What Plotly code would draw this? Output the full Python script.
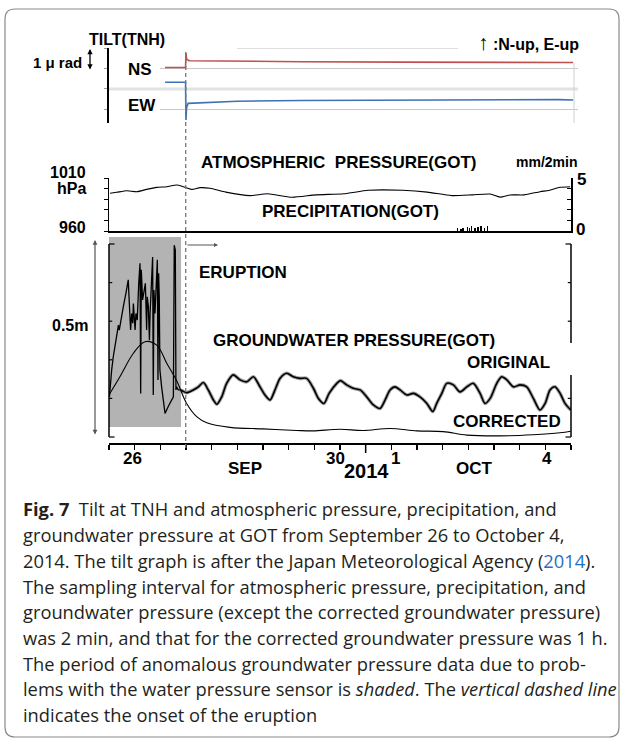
import plotly.graph_objects as go

W, H = 624, 740

# ---------------- data (time in hours since 2014-09-26 00:00 JST) ----------------
ERUPTION_H = 35.87
SHADE_END_H = 33.7

TILT_NS_H = [26.2, 35.8, 35.95, 36.3, 37.5, 45, 60, 90, 136, 183, 217]
TILT_NS = [1.05, 1.05, 1.76, 1.45, 1.38, 1.37, 1.35, 1.33, 1.31, 1.29, 1.29]
TILT_EW_H = [26.2, 35.8, 35.95, 36.3, 37.0, 45, 60, 90, 136, 160, 183, 200, 210, 217]
TILT_EW = [0.33, 0.33, -1.51, -0.9, -0.70, -0.66, -0.60, -0.56, -0.54, -0.53, -0.51, -0.50, -0.52, -0.54]

ATM_H = [0.5, 3.6, 8.3, 13.0, 17.6, 22.3, 27.0, 31.7, 34.7, 38.7, 42.6, 47.2, 54.6, 65.9,
         74.1, 85.5, 96.8, 109.8, 121.2, 137.4, 148.8, 160.2, 169.9, 178.2, 182.8, 187.5,
         194.2, 201.5, 205.6, 210.9, 215.6]
ATM_HPA = [995.6, 996.5, 998.0, 997.1, 999.3, 1001.2, 1001.8, 1003.4, 1001.8, 999.3, 1000.9,
           1000.3, 996.7, 993.4, 995.1, 991.8, 994.1, 995.1, 998.4, 998.4, 996.7, 993.4,
           994.1, 994.9, 992.0, 994.0, 994.1, 997.1, 998.2, 1001.2, 1001.8]

PRECIP_H = [163.0, 164.5, 165.5, 167.5, 168.5, 169.5, 171.0, 172.5, 174.0, 175.5, 177.0]
PRECIP_MM = [0.3, 0.2, 0.3, 0.4, 0.3, 0.5, 0.3, 0.4, 0.5, 0.3, 0.5]

GW_ANOM_H = [0.2, 0.5, 1.25, 2.0, 2.8, 3.6, 4.4, 4.8, 5.5, 6.7, 7.9, 9.0, 9.5, 10.1, 10.6, 11.1,
             11.4, 12.2, 12.6, 13.2, 13.9, 14.5, 14.8, 15.1, 15.7, 16.4, 17.0, 17.6, 17.9, 18.4,
             18.9, 19.2, 19.5, 20.0, 20.4, 20.7, 21.0, 21.5, 22.0, 22.6, 22.9, 23.2, 23.5, 23.8,
             24.6, 25.4, 26.2, 27.7, 29.3, 30.1, 30.5, 31.0, 31.3, 31.6, 32.4, 33.5]
GW_ANOM_M = [0.104, 0.130, 0.174, 0.208, 0.234, 0.269, 0.290, 0.277, 0.303, 0.338, 0.372, 0.407,
             0.346, 0.277, 0.320, 0.295, 0.346, 0.277, 0.320, 0.303, 0.398, 0.450, 0.113, 0.433,
             0.355, 0.381, 0.398, 0.277, 0.363, 0.338, 0.251, 0.320, 0.363, 0.450, 0.466, 0.109,
             0.381, 0.320, 0.389, 0.459, 0.148, 0.424, 0.363, 0.174, 0.130, 0.087, 0.061, 0.079,
             0.096, 0.104, 0.497, 0.484, 0.122, 0.130, 0.122, 0.122]

GW_ORIG_H = [33.5, 36.3, 39.4, 41.8, 44.1, 46.4, 48.8, 50.4, 52.7, 55.0, 58.1, 61.3, 64.4, 67.5,
             70.6, 72.9, 75.3, 77.6, 80.0, 83.1, 86.2, 89.3, 92.4, 95.5, 97.9, 100.5, 102.9,
             106.5, 108.2, 111.1, 114.2, 117.4, 120.5, 123.6, 126.7, 129.1, 131.4, 133.7, 136.1,
             139.2, 142.3, 145.4, 148.6, 151.4, 153.2, 155.6, 157.9, 161.0, 164.1, 167.3, 170.3,
             173.5, 175.8, 178.2, 181.3, 183.6, 186.0, 189.1, 192.2, 195.3, 198.4, 201.5, 203.9,
             206.2, 208.5, 210.9, 213.2, 215.9]
GW_ORIG_M = [0.122, 0.115, 0.122, 0.130, 0.141, 0.122, 0.096, 0.085, 0.104, 0.139, 0.161, 0.148,
             0.143, 0.156, 0.130, 0.109, 0.096, 0.122, 0.152, 0.165, 0.156, 0.152, 0.152, 0.127,
             0.100, 0.087, 0.113, 0.139, 0.146, 0.135, 0.126, 0.122, 0.104, 0.083, 0.074, 0.096,
             0.122, 0.130, 0.122, 0.109, 0.113, 0.104, 0.087, 0.066, 0.087, 0.113, 0.139, 0.135,
             0.117, 0.130, 0.139, 0.113, 0.087, 0.100, 0.139, 0.156, 0.148, 0.130, 0.135, 0.130,
             0.100, 0.070, 0.087, 0.122, 0.130, 0.113, 0.087, 0.070]

GW_CORR_H = [0.0, 5.1, 11.4, 16.8, 22.3, 27.0, 31.7, 36.3, 41.0, 45.7, 56.6, 72.0, 87.8, 95.4,
             108.0, 118.8, 131.4, 143.9, 156.2, 167.3, 182.8, 198.3, 210.9, 215.9]
GW_CORR_M = [0.109, 0.156, 0.217, 0.247, 0.238, 0.191, 0.145, 0.087, 0.053, 0.037, 0.025, 0.021,
             0.017, 0.016, 0.020, 0.017, 0.022, 0.016, 0.014, 0.005, 0.003, 0.006, 0.011, 0.015]

X_TICKS_H = list(range(0, 217, 12))
OCT1_H = 120
DAY_LABELS = ["26", "30", "1", "4"]
DAY_LABEL_H = [11, 106, 134, 205]
MONTH_LABELS = ["SEP", "OCT"]
MONTH_LABEL_H = [63.6, 171.0]
YEAR_LABEL = "2014"
YEAR_LABEL_H = 120.6

CAPTION = [
    "<b>Fig. 7</b>\u00a0 Tilt at TNH and atmospheric pressure, precipitation, and",
    "groundwater pressure at GOT from September 26 to October 4,",
    "2014. The tilt graph is after the Japan Meteorological Agency (<span style='color:#1f6fc5'>2014</span>).",
    "The sampling interval for atmospheric pressure, precipitation, and",
    "groundwater pressure (except the corrected groundwater pressure)",
    "was 2 min, and that for the corrected groundwater pressure was 1 h.",
    "The period of anomalous groundwater pressure data due to prob-",
    "lems with the water pressure sensor is <i>shaded</i>. The <i>vertical dashed line</i>",
    "indicates the onset of the eruption",
]

# ---------------- layout helpers ----------------
CF = "Liberation Sans, Arial, sans-serif"
def PX(x):
    return x / W
def PY(y):
    return 1 - y / H

LOW_DOM = [PX(109), PX(571)]
TILT_XDOM = [PX(109), PX(578)]
TILT_XMAX = 216 * (578 - 109) / (571 - 109)

fig = go.Figure()

# tilt
fig.add_trace(go.Scatter(x=TILT_NS_H, y=TILT_NS, mode="lines", line=dict(color="#c0504d", width=1.6),
                         xaxis="x", yaxis="y"))
fig.add_trace(go.Scatter(x=TILT_EW_H, y=TILT_EW, mode="lines", line=dict(color="#3f72b5", width=1.6),
                         xaxis="x", yaxis="y"))
# atmospheric pressure / precipitation
fig.add_trace(go.Scatter(x=ATM_H, y=ATM_HPA, mode="lines",
                         line=dict(color="black", width=1.1, shape="spline", smoothing=0.6),
                         xaxis="x2", yaxis="y2"))
fig.add_trace(go.Bar(x=PRECIP_H, y=PRECIP_MM, width=0.7, marker=dict(color="black", line=dict(width=0)),
                     xaxis="x2", yaxis="y3"))
# groundwater
fig.add_trace(go.Scatter(x=GW_ANOM_H, y=GW_ANOM_M, mode="lines", line=dict(color="black", width=1.3),
                         xaxis="x3", yaxis="y4"))
fig.add_trace(go.Scatter(x=GW_ORIG_H, y=GW_ORIG_M, mode="lines",
                         line=dict(color="#a3a3a3", width=3.6, shape="spline", smoothing=0.8),
                         xaxis="x3", yaxis="y4"))
fig.add_trace(go.Scatter(x=GW_ORIG_H, y=GW_ORIG_M, mode="lines",
                         line=dict(color="black", width=1.6, shape="spline", smoothing=0.8),
                         xaxis="x3", yaxis="y4"))
fig.add_trace(go.Scatter(x=GW_CORR_H, y=GW_CORR_M, mode="lines", line=dict(color="black", width=1.1, shape="spline"),
                         xaxis="x3", yaxis="y4"))

hidden = dict(showgrid=False, zeroline=False, showticklabels=False)

fig.update_layout(
    width=W, height=H, autosize=False,
    margin=dict(l=0, r=0, t=0, b=0),
    paper_bgcolor="white", plot_bgcolor="rgba(0,0,0,0)",
    showlegend=False, bargap=0, hovermode=False,
    xaxis=dict(domain=TILT_XDOM, range=[0, TILT_XMAX], visible=False, anchor="y"),
    yaxis=dict(domain=[PY(123), PY(48)], range=[-1.66, 2.0], anchor="x", showline=True,
               linecolor="black", linewidth=2, ticks="outside", ticklen=3, tickcolor="#999",
               tickvals=[-1, 0, 1, 2], **hidden),
    xaxis2=dict(domain=LOW_DOM, range=[0, 216], anchor="y2", showline=True, linecolor="black",
                linewidth=1.5, ticks="", **hidden),
    yaxis2=dict(domain=[PY(231), PY(178)], range=[960, 1010], anchor="x2", showline=True,
                linecolor="black", linewidth=1.5, ticks="outside", ticklen=4, tickcolor="black",
                tickvals=[960, 970, 980, 990, 1000, 1010], **hidden),
    yaxis3=dict(range=[0, 5], overlaying="y2", side="right", anchor="x2", showline=True,
                linecolor="black", linewidth=1.5, ticks="inside", ticklen=4, tickcolor="black",
                tickvals=[0, 1, 2, 3, 4, 5], **hidden),
    xaxis3=dict(domain=LOW_DOM, range=[0, 216], anchor="y4", showline=True, linecolor="black",
                linewidth=1.5, ticks="outside", ticklen=5, tickcolor="black", tickwidth=1.2,
                tickvals=X_TICKS_H, **hidden),
    yaxis4=dict(domain=[PY(443), PY(237)], range=[-0.0155, 0.5181], anchor="x3", visible=False),
)

shapes = []
# frame
x0, x1, y0, y1, r = PX(5), PX(619), PY(9), PY(737), 10
rx, ry = r / W, r / H
frame = (f"M {x0},{y0 - ry} "
         f"L {x0},{y1 + ry} Q {x0},{y1} {x0 + rx},{y1} L {x1 - rx},{y1} Q {x1},{y1} {x1},{y1 + ry} "
         f"L {x1},{y0 - ry} Q {x1},{y0} {x1 - rx},{y0} L {x0 + rx},{y0} Q {x0},{y0} {x0},{y0 - ry} Z")
shapes.append(dict(type="path", xref="paper", yref="paper", path=frame,
                   line=dict(color="#8a8a8a", width=1.2)))
# shaded anomaly period
shapes.append(dict(type="rect", xref="x3", yref="y4 domain", x0=0, x1=SHADE_END_H, y0=0.0777, y1=1.0,
                   fillcolor="#b3b3b3", line=dict(width=0), layer="below"))
# tilt gridlines
gx0 = (160 - 109) / (578 - 109)
for v in (1, -1):
    shapes.append(dict(type="line", xref="x domain", yref="y", x0=gx0, x1=1, y0=v, y1=v,
                       line=dict(color="#c8c8c8", width=1), layer="below"))
shapes.append(dict(type="line", xref="x domain", yref="y", x0=0, x1=1, y0=0, y1=0,
                   line=dict(color="#e2e2e2", width=3), layer="below"))
shapes.append(dict(type="line", xref="x domain", yref="y", x0=(237 - 109) / 469, x1=(458 - 109) / 469,
                   y0=2, y1=2, line=dict(color="#bdbdbd", width=1), layer="below"))
shapes.append(dict(type="line", xref="x domain", yref="y", x0=(574 - 109) / 469, x1=(574 - 109) / 469,
                   y0=1.25, y1=-1.66, line=dict(color="#d0d0d0", width=1), layer="below"))
# eruption dashed line
shapes.append(dict(type="line", xref="x3", yref="paper", x0=ERUPTION_H, x1=ERUPTION_H,
                   y0=PY(448), y1=PY(50), line=dict(color="#777777", width=1.3, dash="4px,3px")))
# groundwater brackets
shapes.append(dict(type="line", xref="x3 domain", yref="y4", x0=0, x1=0, y0=0, y1=0.5,
                   line=dict(color="black", width=1.5)))
for v in (0, 0.1, 0.2, 0.3, 0.4, 0.5):
    L = 0.012 if v in (0, 0.5) else 0.007
    shapes.append(dict(type="line", xref="x3 domain", yref="y4", x0=0, x1=L, y0=v, y1=v,
                       line=dict(color="black", width=1.2)))
shapes.append(dict(type="line", xref="x3 domain", yref="y4", x0=1, x1=1, y0=0.5, y1=0.2435,
                   line=dict(color="black", width=1.5)))
shapes.append(dict(type="line", xref="x3 domain", yref="y4", x0=1, x1=1, y0=0.1606, y1=0,
                   line=dict(color="black", width=1.5)))
for v in (0, 0.1, 0.3, 0.4, 0.5):
    L = 0.012 if v in (0, 0.5) else 0.007
    shapes.append(dict(type="line", xref="x3 domain", yref="y4", x0=1 - L, x1=1, y0=v, y1=v,
                       line=dict(color="black", width=1.2)))
# long tick at Oct 1
shapes.append(dict(type="line", xref="x3", yref="paper", x0=OCT1_H, x1=OCT1_H, y0=PY(443), y1=PY(453),
                   line=dict(color="black", width=1.5)))
fig.update_layout(shapes=shapes)

ann = []
def label(text, x, y, size=17, xanchor="center", family=CF, weight="bold", color="black"):
    ann.append(dict(text=text, x=PX(x), y=PY(y), xref="paper", yref="paper", showarrow=False,
                    xanchor=xanchor, yanchor="middle",
                    font=dict(family=family, size=size, color=color, weight=weight)))

label("TILT(TNH)", 127, 39, 16)
label("<span style='font-size:21px'>\u2191</span> :N-up, E-up", 528, 43, 16)
label("1 \u03bc rad", 57, 62, 15)
label("NS", 140, 69, 17)
label("EW", 142, 105, 17)
label("ATMOSPHERIC\u00a0 PRESSURE(GOT)", 338, 162, 17)
label("mm/2min", 546, 162, 14)
label("1010", 88, 173, 16, xanchor="right")
label("hPa", 88, 189, 16, xanchor="right")
label("960", 88, 228, 16, xanchor="right")
label("5", 581, 180, 17)
label("0", 580, 230, 17)
label("PRECIPITATION(GOT)", 350, 212, 17)
label("ERUPTION", 243, 272, 17)
label("0.5m", 70, 326, 16)
label("GROUNDWATER PRESSURE(GOT)", 354, 340, 17)
label("ORIGINAL", 508, 362, 17)
label("CORRECTED", 507, 421, 17)

for t, h in zip(DAY_LABELS, DAY_LABEL_H):
    ann.append(dict(text=t, x=h, y=PY(458), xref="x3", yref="paper", showarrow=False,
                    xanchor="center", yanchor="middle", font=dict(family=CF, size=17, color="black", weight="bold")))
for t, h in zip(MONTH_LABELS, MONTH_LABEL_H):
    ann.append(dict(text=t, x=h, y=PY(468), xref="x3", yref="paper", showarrow=False,
                    xanchor="center", yanchor="middle", font=dict(family=CF, size=17, color="black", weight="bold")))
ann.append(dict(text=YEAR_LABEL, x=YEAR_LABEL_H, y=PY(471), xref="x3", yref="paper", showarrow=False,
                xanchor="center", yanchor="middle", font=dict(family=CF, size=20, color="black", weight="bold")))

# arrows
ann.append(dict(text="", x=PX(90), y=PY(49), xref="paper", yref="paper", ax=0, ay=22, showarrow=True,
                arrowhead=2, arrowside="end+start", arrowsize=0.8, arrowwidth=1.3, arrowcolor="black"))
ann.append(dict(text="", x=PX(95), y=PY(240), xref="paper", yref="paper", ax=0, ay=196, showarrow=True,
                arrowhead=2, arrowside="end+start", arrowsize=0.8, arrowwidth=1.2, arrowcolor="#555"))
ann.append(dict(text="", x=PX(218), y=PY(245), xref="paper", yref="paper", ax=-32, ay=0, showarrow=True,
                arrowhead=2, arrowsize=0.8, arrowwidth=1.0, arrowcolor="#555"))

# caption
CAP_Y = [508, 534, 560, 586, 611, 637, 663, 688, 714]
for line, y in zip(CAPTION, CAP_Y):
    ann.append(dict(text=line, x=PX(21), y=PY(y), xref="paper", yref="paper", showarrow=False,
                    xanchor="left", yanchor="middle",
                    font=dict(family="Open Sans, sans-serif", size=18.3, color="#231f20")))

fig.update_layout(annotations=ann)
fig.write_html("out.html", config={"displayModeBar": False, "staticPlot": True},
               post_script="document.body.style.margin='0px';document.body.style.overflow='hidden';")
